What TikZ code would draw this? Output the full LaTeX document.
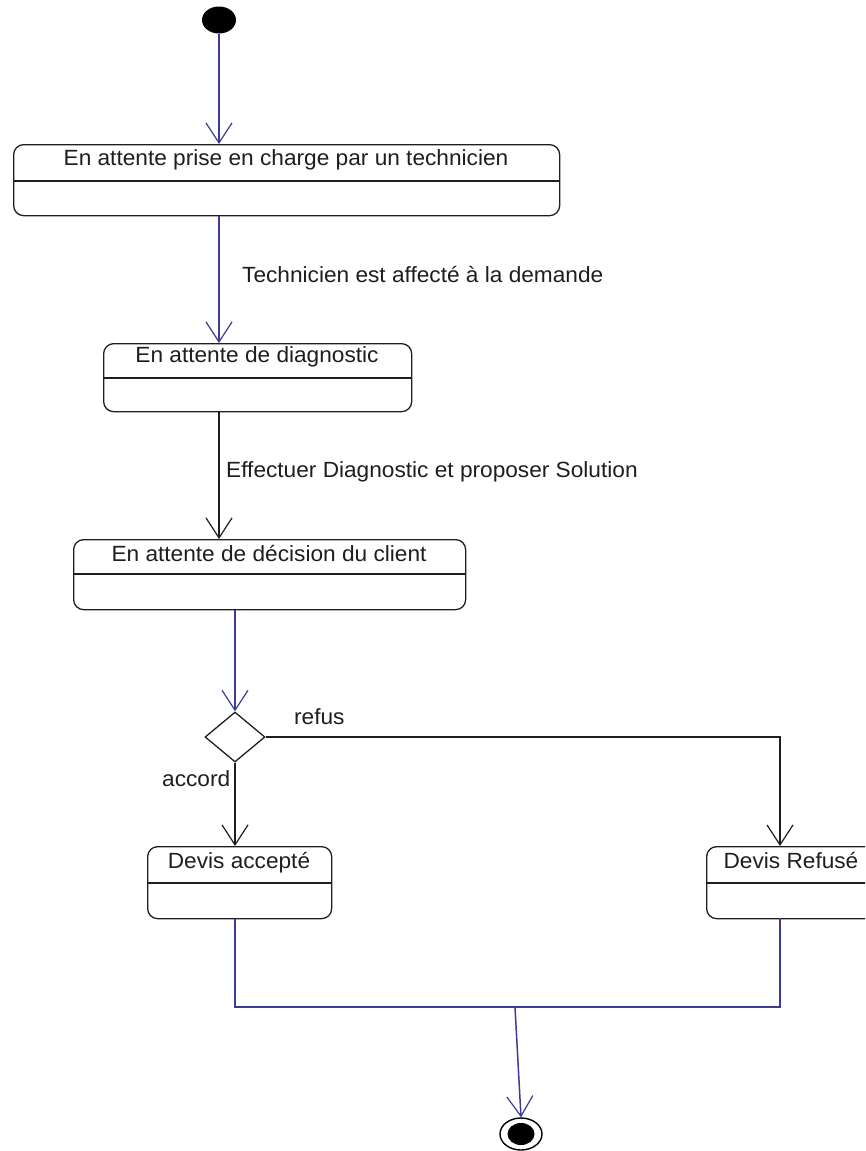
\documentclass[tikz,border=0pt]{standalone}
\usepackage{fontspec}
\setmainfont[FakeStretch=1.03]{Liberation Sans}
\usetikzlibrary{arrows.meta,shapes.geometric}
\definecolor{umlblue}{RGB}{60,60,150}
\definecolor{umlink}{RGB}{30,30,30}
\begin{document}
\begin{tikzpicture}[x=1pt,y=-1pt,
  statebox/.style={draw=umlink, rounded corners=10pt, line width=1.3pt, inner sep=0pt, anchor=north west},
  divider/.style={draw=umlink, line width=1.3pt},
  lbl/.style={font=\fontsize{22}{26}\selectfont, text=umlink, inner sep=0pt, anchor=base west},
  boxtext/.style={lbl, anchor=base},
  tipv/.style={-{Straight Barb[length=20pt,width=26pt,line width=1.2pt]}},
  flowb/.style={draw=umlblue, line width=1.5pt, tipv},
  flowk/.style={draw=umlink, line width=1.5pt, tipv},
  lineb/.style={draw=umlblue, line width=1.5pt}
]
\useasboundingbox (0,0) rectangle (865,1151);
\clip (0,0) rectangle (865,1151);

% initial and final states
\node[ellipse, fill=black, minimum width=34pt, minimum height=27pt, inner sep=0pt] (init) at (219,20) {};
\node[ellipse, draw=black, line width=1.4pt, minimum width=42pt, minimum height=32pt, inner sep=0pt] (fin) at (521,1134) {};
\node[ellipse, fill=black, minimum width=27pt, minimum height=22pt, inner sep=0pt] (finin) at (521,1134) {};

% states
\node[statebox, minimum width=546pt, minimum height=71pt] (s1) at (13,144) {};
\draw[divider] (13,181) -- (559,181);
\node[boxtext] (t1) at (286,165) {En attente prise en charge par un technicien};

\node[statebox, minimum width=308pt, minimum height=68pt] (s2) at (103,343) {};
\draw[divider] (103,378) -- (411,378);
\node[boxtext] (t2) at (257,362) {En attente de diagnostic};

\node[statebox, minimum width=392pt, minimum height=70pt] (s3) at (73,539) {};
\draw[divider] (73,574) -- (465,574);
\node[boxtext] (t3) at (269,561) {En attente de décision du client};

\node[statebox, minimum width=184pt, minimum height=72pt] (s4) at (147,846) {};
\draw[divider] (147,883) -- (331,883);
\node[boxtext] (t4) at (239,868) {Devis accepté};

\node[statebox, minimum width=170pt, minimum height=72pt] (s5) at (706,846) {};
\draw[divider] (706,883) -- (876,883);
\node[boxtext] (t5) at (791,868) {Devis Refusé};

% decision
\node[diamond, draw=umlink, line width=1.3pt, aspect=1.2, minimum width=60pt, minimum height=50pt, inner sep=0pt] (d) at (235,737) {};

% anchor points
\coordinate (r5) at (780,846);
\coordinate (r5b) at (780,918);
\coordinate (jl) at (235,1007);
\coordinate (jr) at (780,1007);
\coordinate (jm) at (515,1007);

% connectors
\draw[flowb] (init.south) -- (init |- s1.north);
\draw[flowb] (init |- s1.south) -- (init |- s2.north);
\draw[flowk] (init |- s2.south) -- (init |- s3.north);
\draw[flowb] (d |- s3.south) -- (d.north);
\draw[flowk] (d.south) -- (d |- s4.north);
\draw[flowk] (d.east) -| (r5);
\draw[lineb] (d |- s4.south) -- (jl) -- (jr) -- (r5b);
\draw[flowb] (jm) -- (fin.north);

% labels
\node[lbl] (l1) at (242,282) {Technicien est affecté à la demande};
\node[lbl] (l2) at (226,477) {Effectuer Diagnostic et proposer Solution};
\node[lbl] (l3) at (294,724) {refus};
\node[lbl] (l4) at (162,786) {accord};
\end{tikzpicture}
\end{document}
